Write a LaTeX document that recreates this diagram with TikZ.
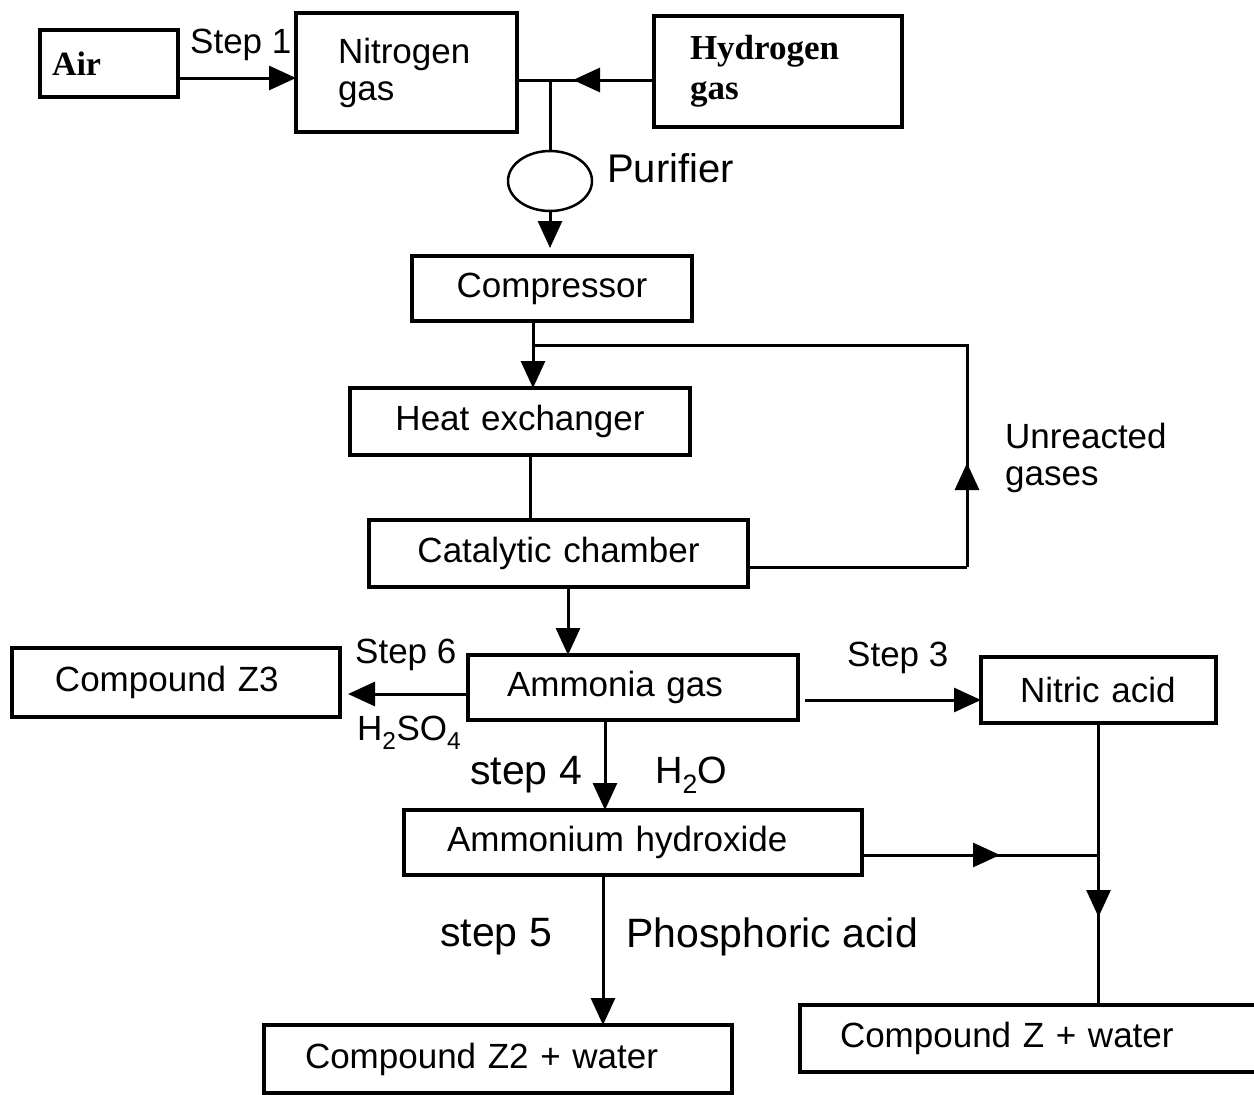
\documentclass[tikz,border=0pt]{standalone}
\usepackage{fontspec}
\setmainfont{Liberation Sans}
\newfontfamily\seriffam{Liberation Serif}
\usetikzlibrary{arrows.meta,shapes.geometric,decorations.markings,calc}
\tikzset{
  box/.style={draw, line width=3.5pt, inner xsep=0pt, inner ysep=0pt, outer sep=0pt, anchor=north west, align=left, font=\fontsize{35}{37}\selectfont},
  lbl/.style={anchor=west, inner sep=0pt, align=left, font=\fontsize{35}{37}\selectfont},
  biglbl/.style={anchor=west, inner sep=0pt, align=left, font=\fontsize{41}{42}\selectfont},
  ln/.style={line width=3pt},
  arr/.style={line width=3pt, -{Triangle[length=27pt,width=24pt]}},
  midarr/.style={line width=3pt, postaction={decorate}, decoration={markings, mark=at position #1 with {\arrow{Triangle[length=27pt,width=24pt]}}}}
}
\begin{document}
\begin{tikzpicture}[x=1pt,y=-1pt]
\useasboundingbox (0,0) rectangle (1254,1095);
% boxes
\node[box, text width=138pt, minimum height=67pt] (air) at (40,30) {\seriffam\bfseries\fontsize{34}{36}\selectfont\hspace*{12pt}Air};
\node[box, text width=221pt, minimum height=119pt] (nit) at (296,13) {\raisebox{5pt}{\parbox{221pt}{\hspace*{42pt}Nitrogen\\\hspace*{42pt}gas}}};
\node[box, text width=248pt, minimum height=111pt] (hyd) at (654,16) {\raisebox{6pt}{\parbox{248pt}{\seriffam\bfseries\baselineskip=40pt\hspace*{36pt}Hydrogen\\\hspace*{36pt}gas}}};
\node[draw, line width=2.5pt, ellipse, minimum width=84pt, minimum height=60pt, inner sep=0pt, outer sep=0pt] (pur) at (550,181) {};
\node[box, text width=280pt, minimum height=65pt, align=center] (comp) at (412,256) {Compressor};
\node[box, text width=340pt, minimum height=67pt, align=center] (heat) at (350,388) {Heat exchanger};
\node[box, text width=379pt, minimum height=67pt, align=center] (cat) at (369,520) {Catalytic chamber};
\node[box, text width=330pt, minimum height=65pt] (amm) at (468,655) {\hspace*{39pt}Ammonia gas};
\node[box, text width=328pt, minimum height=69pt] (z3) at (12,648) {\hspace*{43pt}Compound Z3};
\node[box, text width=235pt, minimum height=66pt] (nitric) at (981,657) {\hspace*{39pt}Nitric acid};
\node[box, text width=458pt, minimum height=65pt] (ammh) at (404,810) {\hspace*{43pt}Ammonium hydroxide};
\node[box, text width=468pt, minimum height=68pt] (z2) at (264,1025) {\hspace*{41pt}Compound Z2 + water};
\node[box, text width=460pt, minimum height=67pt] (zz) at (800,1005) {\hspace*{40pt}Compound Z + water};
% labels
\node[lbl] (s1) at (190,45) {Step 1};
\node[lbl, font=\fontsize{40}{41}\selectfont] (purl) at (607,168) {Purifier};
\node[lbl] (unr) at (1005,458) {Unreacted\\gases};
\node[lbl] (s6) at (355,655) {Step 6};
\node[lbl] (h2so4) at (357,733) {H\textsubscript{2}SO\textsubscript{4}};
\node[lbl] (s3) at (847,658) {Step 3};
\node[biglbl] (s4) at (470,775) {step 4};
\node[lbl, font=\fontsize{38}{39}\selectfont] (h2o) at (655,775) {H\textsubscript{2}O};
\node[biglbl] (s5) at (440,937) {step 5};
\node[biglbl] (phos) at (626,937) {Phosphoric acid};
% connectors
\draw[arr] ([yshift=-14.5pt]air.east) coordinate (a1) -- (a1 -| nit.west);
\coordinate (j1) at (550,80);
\draw[midarr=81pt] ([yshift=-8.5pt]hyd.west) coordinate (h0) -- (h0 -| nit.east);
\draw[ln] (j1) -- (pur.north);
\draw[arr, shorten >=8pt] (pur.south) -- (pur.south |- comp.north);
\coordinate (c1) at ([xshift=-19pt]comp.south);
\coordinate (j2) at (c1 |- 0,345);
\draw[arr] (c1) -- (c1 |- heat.north);
\coordinate (r0) at (967,567);
\coordinate (r1) at (967,345);
\draw[ln] ([yshift=-13.5pt]cat.east) -- (r0);
\draw[midarr=104pt] (r0) -- (r1) -- (j2);
\draw[ln] ([xshift=10pt]heat.south) coordinate (hx) -- (hx |- cat.north);
\draw[arr] ([xshift=9.5pt]cat.south) coordinate (k1) -- (k1 |- amm.north);
\draw[arr, shorten >=8pt] ([yshift=-6.5pt]amm.west) coordinate (m1) -- (m1 -| z3.east);
\draw[arr, shorten <=7pt] ([yshift=-12.5pt]amm.east) coordinate (m2) -- (m2 -| nitric.west);
\draw[arr] ([xshift=-28pt]amm.south) coordinate (m3) -- (m3 |- ammh.north);
\draw[midarr=138pt] ([yshift=-12.5pt]ammh.east) coordinate (m5) -- (m5 -| nitric.south);
\draw[midarr=194pt] (nitric.south) -- (nitric.south |- zz.north);
\draw[arr] ([xshift=-30pt]ammh.south) coordinate (m4) -- (m4 |- z2.north);
\end{tikzpicture}
\end{document}
